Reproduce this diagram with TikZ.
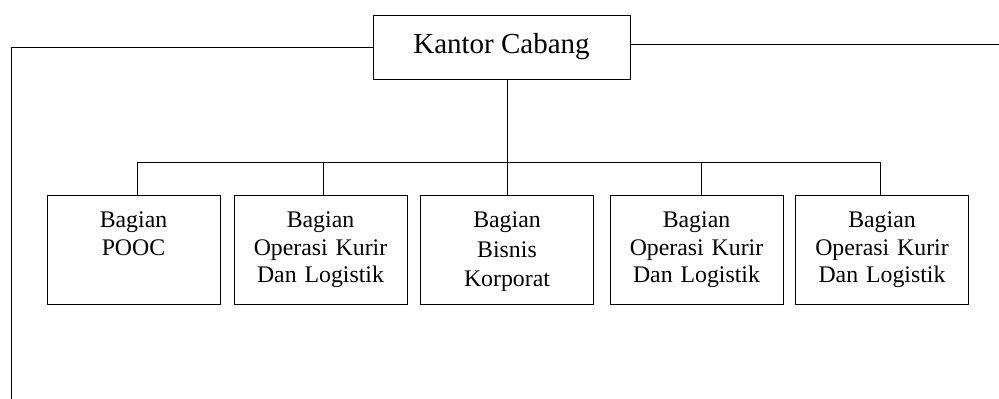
\documentclass[tikz,border=0pt]{standalone}
\usepackage{fontspec}
\setmainfont{Liberation Serif}
\begin{document}
\begin{tikzpicture}[x=1pt,y={(0pt,-1pt)},
  line/.style={line width=1pt,draw=black},
  unitbox/.style={line, rectangle, inner sep=0pt, align=center, text width=173pt,
    text height=32pt, text depth=77pt, font=\fontsize{23.8}{27.5}\selectfont},
  headbox/.style={line, rectangle, inner sep=0pt, minimum width=257pt, minimum height=64pt,
    font=\fontsize{29}{32}\selectfont}]
\useasboundingbox (0,0) rectangle (999,399);
\node[headbox] (top) at (501.5,47) {Kantor Cabang};
\node[unitbox, anchor=north] (b1) at (133.5,195) {Bagian\\POOC};
\node[unitbox, anchor=north] (b2) at (320.5,195) {Bagian\\Operasi Kurir\\Dan Logistik};
\node[unitbox, anchor=north, font=\fontsize{23.8}{29.5}\selectfont] (b3) at (507,195) {Bagian\\Bisnis\\Korporat};
\node[unitbox, anchor=north] (b4) at (696.5,195) {Bagian\\Operasi Kurir\\Dan Logistik};
\node[unitbox, anchor=north] (b5) at (882,195) {Bagian\\Operasi Kurir\\Dan Logistik};
\coordinate (busL) at (137,162);
\coordinate (busR) at (880,162);
\coordinate (leftC) at (11,47);
\coordinate (leftB) at (11,399);
\coordinate (rightE) at (999,44);
\draw[line] (top.west) -- (leftC) -- (leftB);
\draw[line] ([yshift=3pt]top.east) -- (rightE);
\draw[line] (top.south -| b3.north) -- (b3.north);
\draw[line] (busL) -- (busR);
\draw[line] (busL) -- (busL |- b1.north);
\draw[line] (323,162) -- (323,195) coordinate (d2);
\draw[line] (701,162) -- (701,195) coordinate (d4);
\draw[line] (busR) -- (busR |- b5.north);
\end{tikzpicture}
\end{document}
